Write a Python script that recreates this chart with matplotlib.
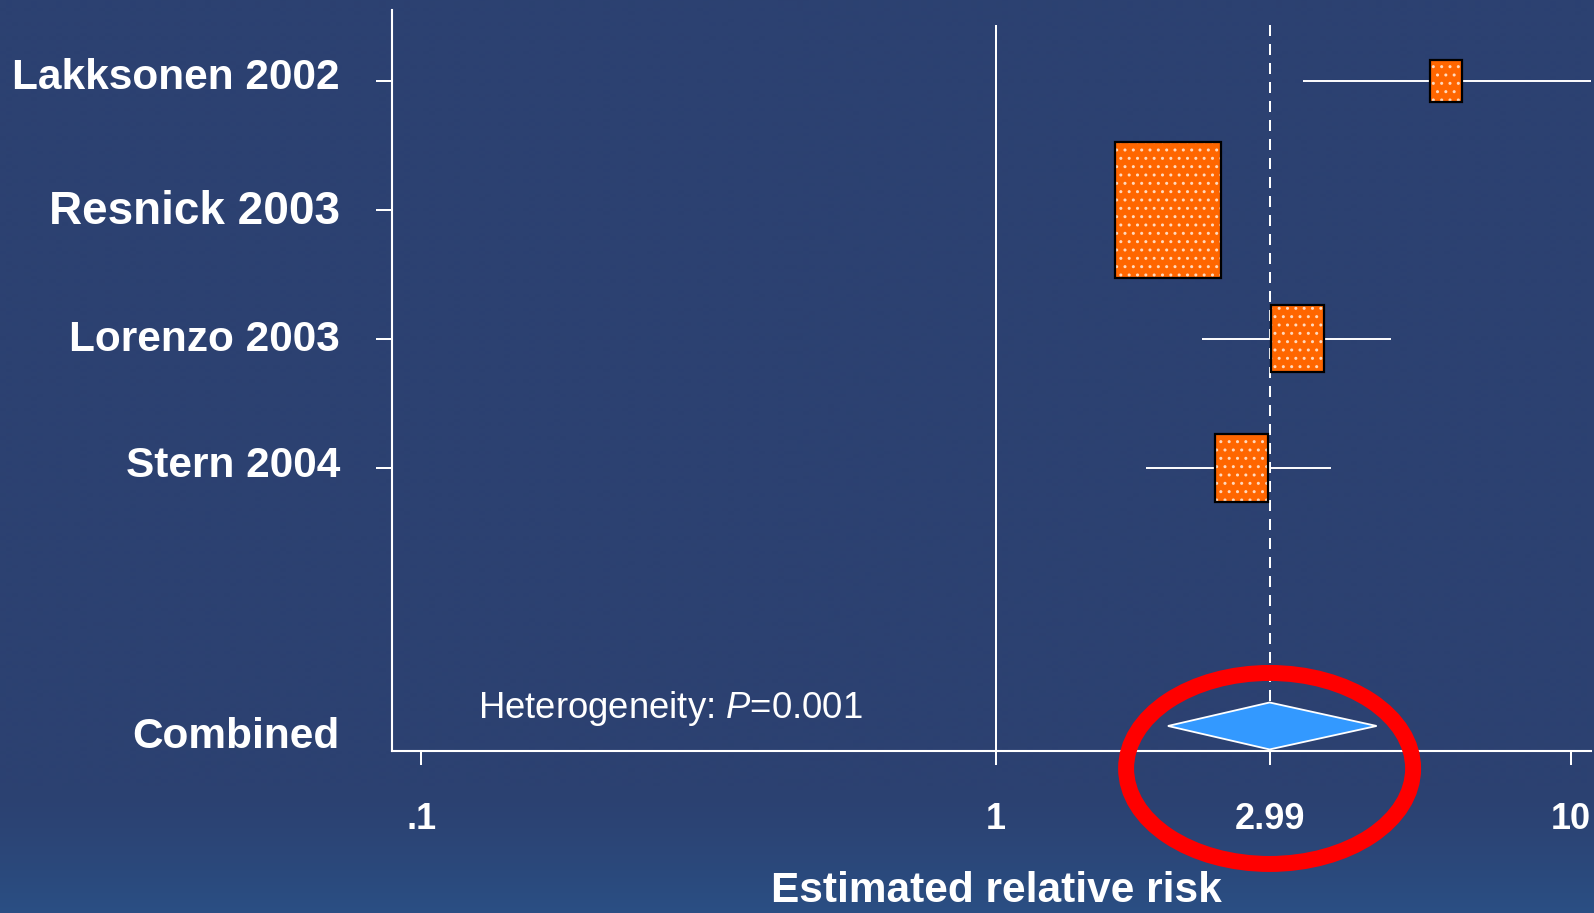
import numpy as np
import matplotlib
matplotlib.use("Agg")
import matplotlib.pyplot as plt
from matplotlib.patches import Rectangle, Polygon, Ellipse
from matplotlib.transforms import ScaledTranslation

# ---- data -------------------------------------------------------------
studies = ["Lakksonen 2002", "Resnick 2003", "Lorenzo 2003", "Stern 2004"]
rr = [6.06, 1.99, 3.34, 2.67]
ci_low = [3.42, 1.78, 2.28, 1.82]
ci_high = [12.5, 2.22, 4.86, 3.82]
weights = [5.9, 62.9, 15.4, 15.8]          # percent weight -> box area

combined_label = "Combined"
combined_rr = 2.99
combined_low = 1.99
combined_high = 4.59
heterogeneity_p = "0.001"

xticks = [0.1, 1, 2.99, 10]
xticklabels = [".1", "1", "2.99", "10"]
xlabel = "Estimated relative risk"

# ---- style ------------------------------------------------------------
BG_TOP = np.array([44, 65, 113]) / 255
BG_BOTTOM = np.array([42, 79, 132]) / 255
BOX_COLOR = "#ff6600"
DIAMOND_COLOR = "#3399ff"
plt.rcParams["font.family"] = ["Liberation Sans", "DejaVu Sans"]
plt.rcParams["mathtext.fontset"] = "custom"
plt.rcParams["mathtext.rm"] = "Liberation Sans"
plt.rcParams["mathtext.it"] = "Liberation Sans:italic"
plt.rcParams["hatch.color"] = "#ffd9bd"
plt.rcParams["hatch.linewidth"] = 1.0

W, H, DPI = 1594, 913, 100
fig = plt.figure(figsize=(W / DPI, H / DPI), dpi=DPI)

# background with a soft lighter band at the bottom
bg = fig.add_axes([0, 0, 1, 1], zorder=-10)
rows_px = np.arange(H)
t = np.clip((rows_px - 790) / (H - 790), 0, 1) ** 1.3
grad = BG_TOP[None, :] * (1 - t[:, None]) + BG_BOTTOM[None, :] * t[:, None]
bg.imshow(grad[:, None, :], aspect="auto", extent=[0, 1, 0, 1], interpolation="bilinear")
bg.axis("off")

# main forest-plot axes
left_px, right_px, top_px, bottom_px = 392, 1591, 10, 751
ax = fig.add_axes([left_px / W, 1 - bottom_px / H,
                   (right_px - left_px) / W, (bottom_px - top_px) / H])
ax.set_facecolor("none")
ax.set_xscale("log")
ax.set_xlim(0.0890, 10.83)
ypos = [1, 2, 3, 4]
y_comb = 6
ax.set_ylim(6.194, 0.452)

for s in ["top", "right"]:
    ax.spines[s].set_visible(False)
for s in ["left", "bottom"]:
    ax.spines[s].set_color("white")
    ax.spines[s].set_linewidth(1.5)

# null line and pooled-estimate line
line_top = 0.57
diamond_half = 0.182
ax.vlines(1, line_top, 6.194, color="white", lw=1.44, zorder=2, clip_on=False)
ax.vlines(combined_rr, line_top, y_comb - diamond_half, color="white", lw=1.44,
          linestyles=(0, (5.5, 4)), zorder=2)

# confidence intervals
ax.hlines(ypos, ci_low, ci_high, color="white", lw=1.4, zorder=2)

# weighted boxes (sizes in inches, centred on the estimate)
k = 0.134
aspect = 1.28
for x, y, w in zip(rr, ypos, weights):
    bw = k * np.sqrt(w)
    bh = bw * aspect
    tr = fig.dpi_scale_trans + ScaledTranslation(x, y, ax.transData)
    face = Rectangle((-bw / 2, -bh / 2), bw, bh, transform=tr,
                     facecolor=BOX_COLOR, edgecolor=None, linewidth=0,
                     hatch="..", zorder=3)
    edge = Rectangle((-bw / 2, -bh / 2), bw, bh, transform=tr,
                     fill=False, edgecolor="black", linewidth=1.6, zorder=4)
    ax.add_patch(face)
    ax.add_patch(edge)

# pooled diamond
diamond = Polygon([(combined_low, y_comb), (combined_rr, y_comb - diamond_half),
                   (combined_high, y_comb), (combined_rr, y_comb + diamond_half)],
                  closed=True, facecolor=DIAMOND_COLOR, edgecolor="white",
                  linewidth=1.3, zorder=4)
ax.add_patch(diamond)

# highlight around the pooled estimate
ring_tr = fig.dpi_scale_trans + ScaledTranslation(combined_rr, y_comb, ax.transData)
ring = Ellipse((0.0, -0.425), 2.87, 1.91, transform=ring_tr, fill=False,
               edgecolor="#ff0000", linewidth=11.5, clip_on=False, zorder=6)
ax.add_patch(ring)

# heterogeneity note
ax.text(0.1256, 5.936, "Heterogeneity: $\\mathit{P}$=" + heterogeneity_p,
        ha="left", va="baseline", fontsize=26.3, color="white", zorder=5)

# x ticks and labels
ax.set_xticks(xticks)
ax.set_xticklabels(xticklabels)
ax.xaxis.set_minor_locator(matplotlib.ticker.NullLocator())
ax.tick_params(axis="x", length=10, width=1.44, color="white", pad=26.5,
               labelsize=26, labelcolor="white")
for lab in ax.get_xticklabels():
    lab.set_fontweight("bold")

# y ticks (marks only for the studies) and row labels drawn as text
ax.set_yticks(ypos)
ax.set_yticklabels([])
ax.tick_params(axis="y", length=11.5, width=1.44, color="white")

row_labels = studies + [combined_label]
row_y = ypos + [y_comb]
row_sizes = [30.5, 33, 30.5, 30.5, 30.5]
row_shift_px = [7, 3, 3, 6, -7]            # fine vertical nudges, pixels upward
label_gap_px = 52
for lab, y, fs, dy in zip(row_labels, row_y, row_sizes, row_shift_px):
    tr = ax.get_yaxis_transform() + ScaledTranslation(-label_gap_px / DPI, dy / DPI,
                                                      fig.dpi_scale_trans)
    ax.text(0, y, lab, transform=tr, ha="right", va="center_baseline",
            fontsize=fs, fontweight="bold", color="white", clip_on=False)

fig.text(996 / W, 0.002, xlabel, ha="center", va="bottom",
         fontsize=30.5, fontweight="bold", color="white")

fig.savefig("out.png", dpi=DPI, facecolor=BG_TOP)
